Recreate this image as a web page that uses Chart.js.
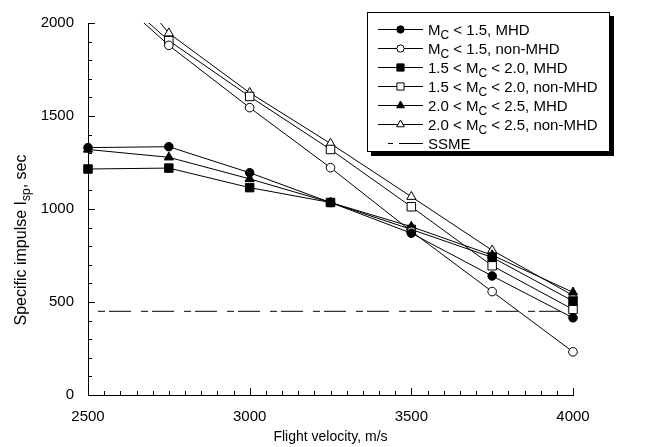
<!DOCTYPE html>
<html>
<head>
<meta charset="utf-8">
<script src="https://cdn.jsdelivr.net/npm/chart.js@4.4.0/dist/chart.umd.min.js"></script>
<style>
  html, body { margin: 0; padding: 0; background: #fff; }
  #wrap { width: 652px; height: 447px; }
</style>
</head>
<body>
<div id="wrap"><canvas id="chart" width="652" height="447"></canvas></div>
<script>
// flight velocity, m/s
const velocities = [2500, 2750, 3000, 3250, 3500, 3750, 4000];

// specific impulse, sec
const mhdLow = [1330, 1335, 1195, 1035, 870, 640, 415];
const nonMhdLow = [2270, 1880, 1545, 1222, 880, 556, 232];
const mhdMid = [1215, 1220, 1115, 1035, 890, 740, 505];
const nonMhdMid = [2290, 1905, 1605, 1320, 1012, 695, 460];
const mhdHigh = [1320, 1278, 1162, 1035, 905, 752, 552];
const nonMhdHigh = [2480, 1945, 1625, 1352, 1066, 778, 535];

const ssmeVelocities = [2500, 4000];
const ssmeIsp = [450, 450];

const xTicks = [2500, 3000, 3500, 4000];
const yTicks = [0, 500, 1000, 1500, 2000];

const FONT = "'Liberation Sans', Arial, sans-serif";

// label pieces: [text, subscript?]
const seriesInfo = [
  { data: mhdLow, style: "circle", fill: true, label: [["M", 0], ["C", 1], [" < 1.5, MHD", 0]] },
  { data: nonMhdLow, style: "circle", fill: false, label: [["M", 0], ["C", 1], [" < 1.5, non-MHD", 0]] },
  { data: mhdMid, style: "rect", fill: true, label: [["1.5 < M", 0], ["C", 1], [" < 2.0, MHD", 0]] },
  { data: nonMhdMid, style: "rect", fill: false, label: [["1.5 < M", 0], ["C", 1], [" < 2.0, non-MHD", 0]] },
  { data: mhdHigh, style: "triangle", fill: true, label: [["2.0 < M", 0], ["C", 1], [" < 2.5, MHD", 0]] },
  { data: nonMhdHigh, style: "triangle", fill: false, label: [["2.0 < M", 0], ["C", 1], [" < 2.5, non-MHD", 0]] }
];

const radiusFor = { circle: 4.3, rect: 6, triangle: 5.3 };
const ssmeDash = [7, 4, 22, 10];

const datasets = seriesInfo.map(s => ({
  data: velocities.map((v, i) => ({ x: v, y: s.data[i] })),
  borderColor: "#000",
  borderWidth: 1,
  pointStyle: s.style,
  pointRadius: radiusFor[s.style],
  pointBorderWidth: 1,
  pointBorderColor: "#000",
  pointBackgroundColor: s.fill ? "#000" : "#fff",
  clip: { left: 10, right: 10, top: 0, bottom: 10 }
}));

datasets.push({
  data: ssmeVelocities.map((v, i) => ({ x: v, y: ssmeIsp[i] })),
  borderColor: "#000",
  borderWidth: 1,
  borderDash: ssmeDash,
  borderDashOffset: -10,
  pointRadius: 0
});

function richWidth(ctx, pieces, size) {
  let w = 0;
  pieces.forEach(([t, sub]) => {
    ctx.font = (sub ? Math.round(size * 0.78) : size) + "px " + FONT;
    w += ctx.measureText(t).width;
  });
  return w;
}

function drawRich(ctx, pieces, x, y, size) {
  let cx = x;
  pieces.forEach(([t, sub]) => {
    ctx.font = (sub ? Math.round(size * 0.78) : size) + "px " + FONT;
    ctx.fillText(t, cx, sub ? y + 4 : y);
    cx += ctx.measureText(t).width;
  });
}

const extras = {
  id: "extras",
  afterDraw(chart) {
    const ctx = chart.ctx;
    const xs = chart.scales.x, ys = chart.scales.y;
    const area = chart.chartArea;
    ctx.save();
    ctx.strokeStyle = "#000";
    ctx.lineWidth = 1;

    // inward tick marks
    ctx.beginPath();
    for (let v = xs.min; v <= xs.max; v += 50) {
      const px = Math.round(xs.getPixelForValue(v)) + 0.5;
      const len = v % 500 === 0 ? 7 : 4;
      ctx.moveTo(px, area.bottom);
      ctx.lineTo(px, area.bottom - len);
    }
    for (let v = ys.min; v <= ys.max; v += 100) {
      const py = Math.round(ys.getPixelForValue(v)) + 0.5;
      const len = v % 500 === 0 ? 7 : 4;
      ctx.moveTo(area.left, py);
      ctx.lineTo(area.left + len, py);
    }
    ctx.stroke();

    // y axis title with subscript
    ctx.fillStyle = "#000";
    ctx.textBaseline = "alphabetic";
    ctx.save();
    ctx.translate(26, 240);
    ctx.rotate(-Math.PI / 2);
    const yTitle = [["Specific impulse I", 0], ["sp", 1], [", sec", 0]];
    const w = richWidth(ctx, yTitle, 16);
    drawRich(ctx, yTitle, -w / 2, 0, 16);
    ctx.restore();

    // legend box
    const bx = area.right - 206, by = 12, bw = 243, bh = 140;
    ctx.fillStyle = "#000";
    ctx.fillRect(bx + 4, by + 4, bw, bh);
    ctx.fillStyle = "#fff";
    ctx.fillRect(bx, by, bw, bh);
    ctx.strokeRect(bx + 0.5, by + 0.5, bw - 1, bh - 1);

    const rowH = 19;
    const x0 = bx + 11, x1 = bx + 56, tx = bx + 61;
    seriesInfo.forEach((s, i) => {
      const cy = by + 17 + i * rowH + 0.5;
      ctx.beginPath();
      ctx.moveTo(x0, cy);
      ctx.lineTo(x1, cy);
      ctx.stroke();
      ctx.fillStyle = s.fill ? "#000" : "#fff";
      Chart.helpers.drawPoint(ctx, {
        pointStyle: s.style,
        radius: radiusFor[s.style] * 0.85,
        rotation: 0,
        borderWidth: 1
      }, (x0 + x1) / 2, cy);
      ctx.fillStyle = "#000";
      drawRich(ctx, s.label, tx, cy + 5, 15);
    });
    const cy = by + 17 + 6 * rowH + 0.5;
    ctx.beginPath();
    ctx.moveTo(x0 + 10, cy);
    ctx.lineTo(x0 + 15, cy);
    ctx.moveTo(x0 + 21, cy);
    ctx.lineTo(x1, cy);
    ctx.stroke();
    ctx.fillStyle = "#000";
    drawRich(ctx, [["SSME", 0]], tx, cy + 5, 15);
    ctx.restore();
  }
};

new Chart(document.getElementById("chart"), {
  type: "line",
  data: { datasets },
  options: {
    responsive: false,
    devicePixelRatio: 1,
    animation: false,
    layout: { padding: { left: 0, right: 79, top: 14, bottom: 0 } },
    plugins: { legend: { display: false }, tooltip: { enabled: false } },
    scales: {
      x: {
        type: "linear",
        min: 2500,
        max: 4000,
        afterBuildTicks: s => { s.ticks = xTicks.map(v => ({ value: v })); },
        afterFit: s => { s.height = 52; },
        grid: { display: false, drawTicks: false },
        border: { display: true, color: "#000", width: 1 },
        ticks: { color: "#000", font: { family: FONT, size: 15 }, padding: 13, maxRotation: 0, callback: v => String(v) },
        title: {
          display: true,
          text: "Flight velocity, m/s",
          color: "#000",
          font: { family: FONT, size: 14 },
          padding: { top: 0, bottom: 1 }
        }
      },
      y: {
        min: 0,
        max: 2000,
        afterBuildTicks: s => { s.ticks = yTicks.map(v => ({ value: v })); },
        afterFit: s => { s.width = 88; },
        grid: { display: false, drawTicks: false },
        border: { display: true, color: "#000", width: 1 },
        ticks: { color: "#000", font: { family: FONT, size: 15 }, padding: 14, callback: v => String(v) }
      }
    }
  },
  plugins: [extras]
});
</script>
</body>
</html>
